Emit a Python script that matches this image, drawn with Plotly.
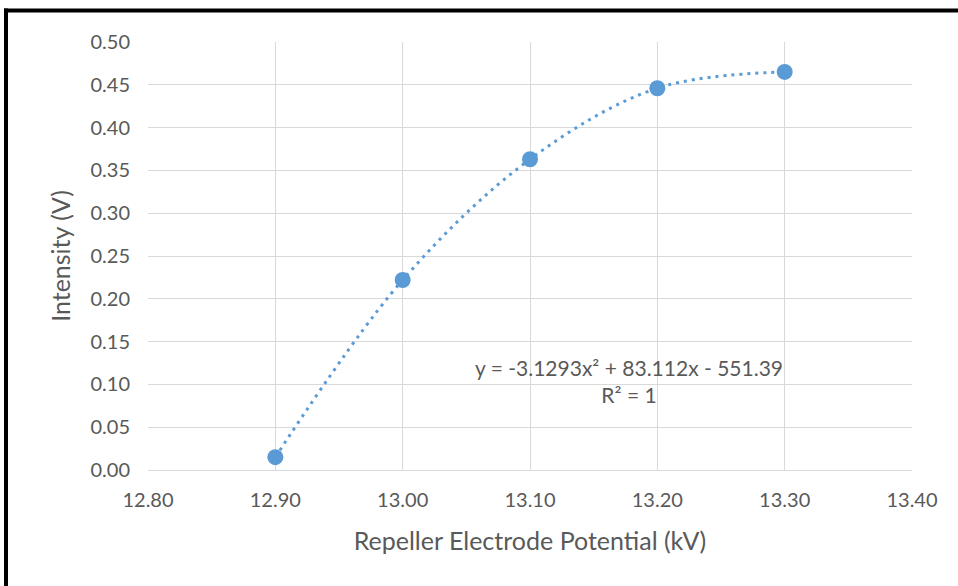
import plotly.graph_objects as go

potential_kv = [12.90, 13.00, 13.10, 13.20, 13.30]
intensity_v = [0.015, 0.222, 0.363, 0.446, 0.465]
x_ticks = [12.80, 12.90, 13.00, 13.10, 13.20, 13.30, 13.40]
y_ticks = [0.00, 0.05, 0.10, 0.15, 0.20, 0.25, 0.30, 0.35, 0.40, 0.45, 0.50]
equation_text = "y = -3.1293x² + 83.112x - 551.39<br>R² = 1"

BLUE = "#5B9BD5"
FONT = "Lato"
TXT = "#595959"
GRID = "#D9D9D9"

W, H = 958, 586
L, R, T, B = 148, 46, 42, 116

fig = go.Figure()
fig.add_trace(go.Scatter(
    x=potential_kv, y=intensity_v, mode="lines",
    line=dict(color=BLUE, width=3, dash="3px,5px", shape="spline", smoothing=1.0),
    hoverinfo="skip", showlegend=False))
fig.add_trace(go.Scatter(
    x=potential_kv, y=intensity_v, mode="markers",
    marker=dict(color=BLUE, size=16), showlegend=False))

pw, ph = W - L - R, H - T - B
px = lambda p: (p - L) / pw
py = lambda p: 1 + (T - p) / ph

fig.add_shape(type="line", xref="paper", yref="paper",
              x0=px(4), x1=px(W + 20), y0=py(10.5), y1=py(10.5),
              line=dict(color="black", width=4))
fig.add_shape(type="line", xref="paper", yref="paper",
              x0=px(6), x1=px(6), y0=py(8.5), y1=py(H + 20),
              line=dict(color="black", width=4))

fig.add_annotation(x=13.178, y=0.104, xref="x", yref="y", text=equation_text,
                   showarrow=False, align="center",
                   font=dict(family=FONT, size=21, color=TXT))

fig.update_layout(
    width=W, height=H, margin=dict(l=L, r=R, t=T, b=B),
    paper_bgcolor="white", plot_bgcolor="white",
    font=dict(family=FONT, color=TXT),
    xaxis=dict(range=[12.8, 13.4], tickvals=x_ticks,
               ticktext=[f"{v:.2f}" for v in x_ticks],
               showgrid=True, gridcolor=GRID, gridwidth=1, zeroline=False,
               showline=True, linecolor=GRID, linewidth=1,
               ticks="outside", ticklen=12, tickcolor="rgba(0,0,0,0)",
               tickfont=dict(family=FONT, size=20, color=TXT),
               title=dict(text="Repeller Electrode Potential (kV)", standoff=22,
                          font=dict(family=FONT, size=25, color=TXT))),
    yaxis=dict(range=[0, 0.5], tickvals=y_ticks,
               ticktext=[f"{v:.2f}" for v in y_ticks],
               showgrid=True, gridcolor=GRID, gridwidth=1, zeroline=False,
               showline=False,
               ticks="outside", ticklen=13, tickcolor="rgba(0,0,0,0)",
               tickfont=dict(family=FONT, size=20, color=TXT),
               title=dict(text="Intensity (V)", standoff=12,
                          font=dict(family=FONT, size=25, color=TXT))),
)

fig.write_html("out.html", config={"displayModeBar": False},
               post_script="document.body.style.margin='0';")
